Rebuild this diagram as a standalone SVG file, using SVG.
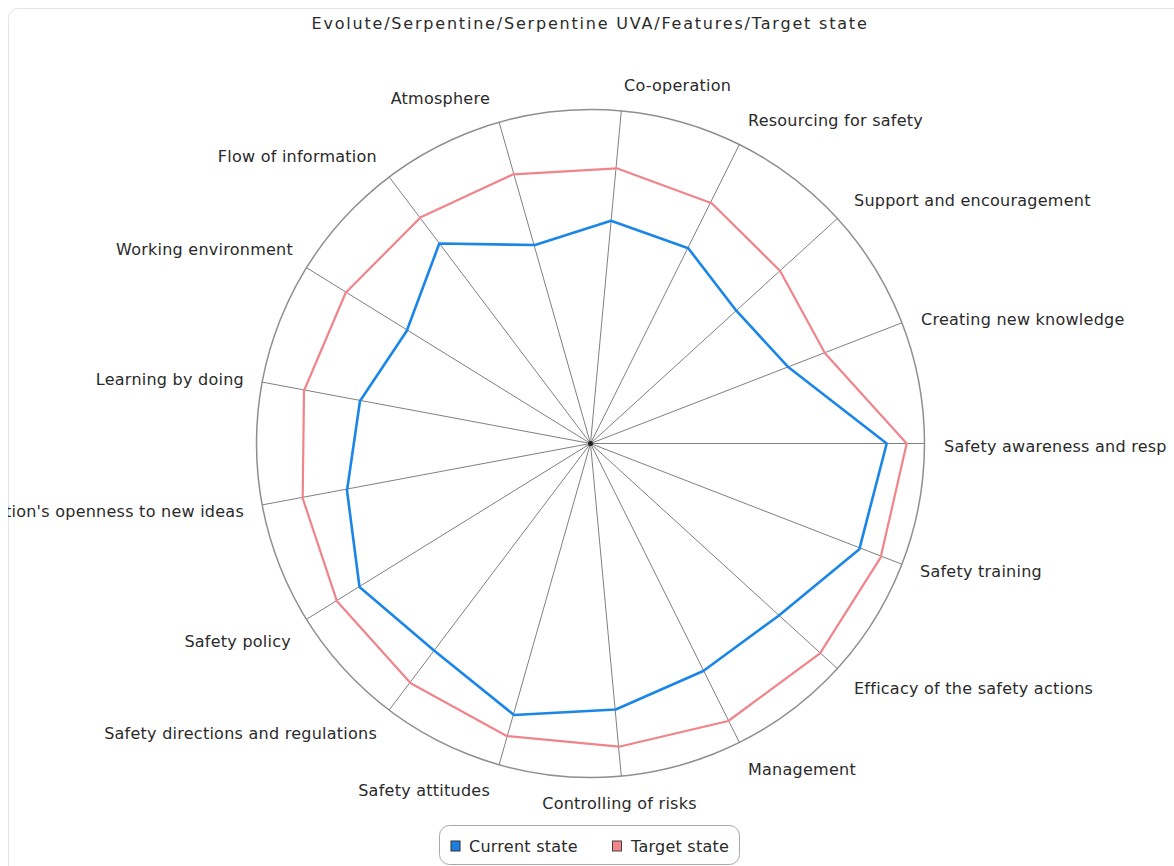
<svg xmlns="http://www.w3.org/2000/svg" width="1174" height="866" viewBox="0 0 1174 866">
<defs>
<style>
.lbl{font-family:"DejaVu Sans",Verdana,sans-serif;font-size:16px;fill:#2a2a2a;letter-spacing:0.25px}
.ttl{font-family:"DejaVu Sans",Verdana,sans-serif;font-size:16px;fill:#2a2a2a;letter-spacing:1.8px}
.spoke{stroke:#808080;stroke-width:1;fill:none}
.ring{stroke:#8f8f8f;stroke-width:1.5;fill:none}
.cur{stroke:#1a86e8;stroke-width:2.6;fill:none;stroke-linejoin:round}
.tgt{stroke:#f0848a;stroke-width:2.2;fill:none;stroke-linejoin:round}
</style>
<clipPath id="panel"><rect x="8" y="8" width="1162" height="858"/></clipPath>
</defs>
<rect x="0" y="0" width="1174" height="866" fill="#ffffff"/>
<rect id="panel-frame" x="8.5" y="8.5" width="1180" height="880" rx="10" fill="#ffffff" stroke="#e4e4e4" stroke-width="1"/>
<text id="title" class="ttl" x="590" y="29" text-anchor="middle">Evolute/Serpentine/Serpentine UVA/Features/Target state</text>
<g id="grid">
<circle class="ring" cx="590.5" cy="443.5" r="334"/>
<g class="spoke">
<line x1="590.5" y1="443.5" x2="924.5" y2="443.5"/>
<line x1="590.5" y1="443.5" x2="901.9" y2="322.8"/>
<line x1="590.5" y1="443.5" x2="837.3" y2="218.5"/>
<line x1="590.5" y1="443.5" x2="739.4" y2="144.5"/>
<line x1="590.5" y1="443.5" x2="621.3" y2="110.9"/>
<line x1="590.5" y1="443.5" x2="499.1" y2="122.2"/>
<line x1="590.5" y1="443.5" x2="389.2" y2="177.0"/>
<line x1="590.5" y1="443.5" x2="306.5" y2="267.7"/>
<line x1="590.5" y1="443.5" x2="262.2" y2="382.1"/>
<line x1="590.5" y1="443.5" x2="262.2" y2="504.9"/>
<line x1="590.5" y1="443.5" x2="306.5" y2="619.3"/>
<line x1="590.5" y1="443.5" x2="389.2" y2="710.0"/>
<line x1="590.5" y1="443.5" x2="499.1" y2="764.8"/>
<line x1="590.5" y1="443.5" x2="621.3" y2="776.1"/>
<line x1="590.5" y1="443.5" x2="739.4" y2="742.5"/>
<line x1="590.5" y1="443.5" x2="837.3" y2="668.5"/>
<line x1="590.5" y1="443.5" x2="901.9" y2="564.2"/>
</g>
<circle cx="590.5" cy="443.5" r="2.5" fill="#222"/>
</g>
<g id="series-target">
<polygon class="tgt" points="906.7,443.5 825,353.3 780,270.7 711.7,203.3 616.7,168.3 513.3,174.3 420.7,217.3 345.7,292.7 304,390.7 302.7,498.3 337,601.3 410.7,683.3 506.7,736 619,746.7 728.3,721 820,653.3 880.7,557.3"/>
</g>
<g id="series-current">
<polygon class="cur" points="886.7,443.5 788.5,367.3 736.3,310.7 688.3,248.3 611,220.7 535,245 439.3,243.5 406.7,331 360,401 347,490.5 359.5,587 434.3,650.7 514,715 615.7,709.5 703.3,671 778.3,616 859.3,549.3"/>
</g>
<g id="labels" clip-path="url(#panel)">
<text class="lbl" x="944" y="452">Safety awareness and resp</text>
<text class="lbl" x="921" y="325">Creating new knowledge</text>
<text class="lbl" x="854" y="206">Support and encouragement</text>
<text class="lbl" x="748" y="126">Resourcing for safety</text>
<text class="lbl" x="624" y="91">Co-operation</text>
<text class="lbl" x="490" y="104" text-anchor="end">Atmosphere</text>
<text class="lbl" x="377" y="162" text-anchor="end">Flow of information</text>
<text class="lbl" x="293" y="255" text-anchor="end">Working environment</text>
<text class="lbl" x="244" y="385" text-anchor="end">Learning by doing</text>
<text class="lbl" x="244" y="517" text-anchor="end">tion's openness to new ideas</text>
<text class="lbl" x="291" y="647" text-anchor="end">Safety policy</text>
<text class="lbl" x="377" y="739" text-anchor="end">Safety directions and regulations</text>
<text class="lbl" x="490" y="796" text-anchor="end">Safety attitudes</text>
<text class="lbl" x="619.5" y="809" text-anchor="middle">Controlling of risks</text>
<text class="lbl" x="748" y="775">Management</text>
<text class="lbl" x="854" y="694">Efficacy of the safety actions</text>
<text class="lbl" x="920" y="577">Safety training</text>
</g>
<g id="legend">
<rect x="439.5" y="825.5" width="300" height="39" rx="10" fill="#ffffff" stroke="#a8a8a8" stroke-width="1"/>
<rect x="451" y="841" width="9" height="10" fill="#1a7fe0" stroke="#333" stroke-width="1"/>
<text class="lbl" x="469" y="852">Current state</text>
<rect x="612.5" y="841" width="9" height="10" fill="#f4868a" stroke="#444" stroke-width="1"/>
<text class="lbl" x="631" y="852">Target state</text>
</g>
</svg>
